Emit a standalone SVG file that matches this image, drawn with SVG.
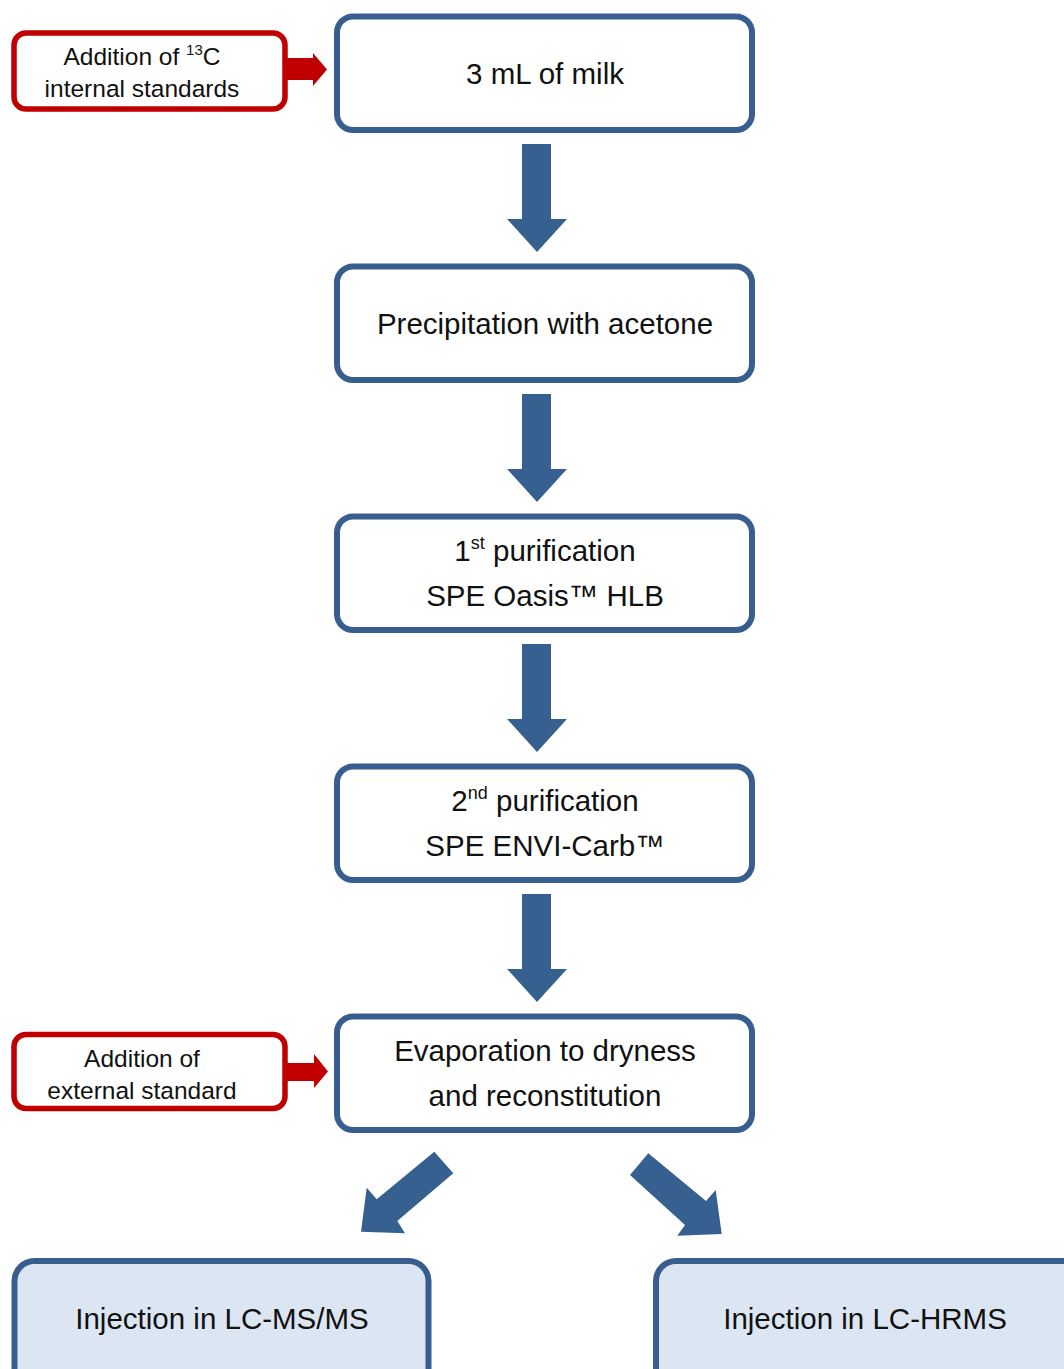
<svg xmlns="http://www.w3.org/2000/svg" width="1064" height="1369" viewBox="0 0 1064 1369">
<style>
.main{fill:#fff;stroke:#385E8F;stroke-width:6}
.end{fill:#DCE6F2;stroke:#385E8F;stroke-width:6}
.side{fill:#fff;stroke:#C00000;stroke-width:5.5}
.t{font-family:"Liberation Sans",Arial,sans-serif;font-size:29.5px;fill:#111;text-anchor:middle}
.s{font-family:"Liberation Sans",Arial,sans-serif;font-size:24.5px;fill:#111;text-anchor:middle}
.barrow{fill:#36608F}
.rarrow{fill:#C00000}
</style>
<defs>
<path id="down" d="M522,144 H551 V219 H567 L537,252 L507,219 H522 Z"/>
</defs>
<g id="connectors">
<use href="#down" class="barrow"/>
<use href="#down" class="barrow" y="250"/>
<use href="#down" class="barrow" y="500"/>
<use href="#down" class="barrow" y="750"/>
<polygon class="barrow" points="434.3,1151.7 453.3,1173.3 397.3,1221 405,1233.3 361,1231.7 366.7,1187.7 376.7,1199.3"/>
<polygon class="barrow" points="648.3,1153.3 706,1201 715.7,1190 721.7,1234 677.3,1235.7 685,1225 630,1175"/>
<path class="rarrow" d="M287,58 H313 V53 L327,69.5 L313,86 V80 H287 Z"/>
<path class="rarrow" d="M287,1063 H314 V1054 L328,1071.5 L314,1088 V1081 H287 Z"/>
</g>
<g id="n1"><rect class="main" x="337" y="16.5" width="415" height="113.5" rx="16"/><text class="t" x="545" y="84">3 mL of milk</text></g>
<g id="n2"><rect class="main" x="337" y="266.5" width="415" height="113.5" rx="16"/><text class="t" x="545" y="334">Precipitation with acetone</text></g>
<g id="n3"><rect class="main" x="337" y="516.5" width="415" height="113.5" rx="16"/><text class="t" x="545" y="561">1<tspan font-size="18" dy="-12">st</tspan><tspan dy="12"> purification</tspan></text><text class="t" x="545" y="606">SPE Oasis™ HLB</text></g>
<g id="n4"><rect class="main" x="337" y="766.5" width="415" height="113.5" rx="16"/><text class="t" x="545" y="811">2<tspan font-size="18" dy="-12">nd</tspan><tspan dy="12"> purification</tspan></text><text class="t" x="545" y="856">SPE ENVI-Carb™</text></g>
<g id="n5"><rect class="main" x="337" y="1016.5" width="415" height="113.5" rx="16"/><text class="t" x="545" y="1061">Evaporation to dryness</text><text class="t" x="545" y="1106">and reconstitution</text></g>
<g id="s1"><rect class="side" x="14" y="33" width="271" height="76" rx="12"/><text class="s" x="142" y="65">Addition of <tspan font-size="15" dy="-10">13</tspan><tspan dy="10">C</tspan></text><text class="s" x="142" y="97">internal standards</text></g>
<g id="s2"><rect class="side" x="14" y="1034.5" width="271" height="74" rx="12"/><text class="s" x="142" y="1067">Addition of</text><text class="s" x="142" y="1099">external standard</text></g>
<g id="e1"><rect class="end" x="14.5" y="1261" width="414" height="140" rx="20"/><text class="t" x="222" y="1329">Injection in LC-MS/MS</text></g>
<g id="e2"><rect class="end" x="656" y="1261" width="430" height="140" rx="20"/><text class="t" x="865" y="1329">Injection in LC-HRMS</text></g>
</svg>
